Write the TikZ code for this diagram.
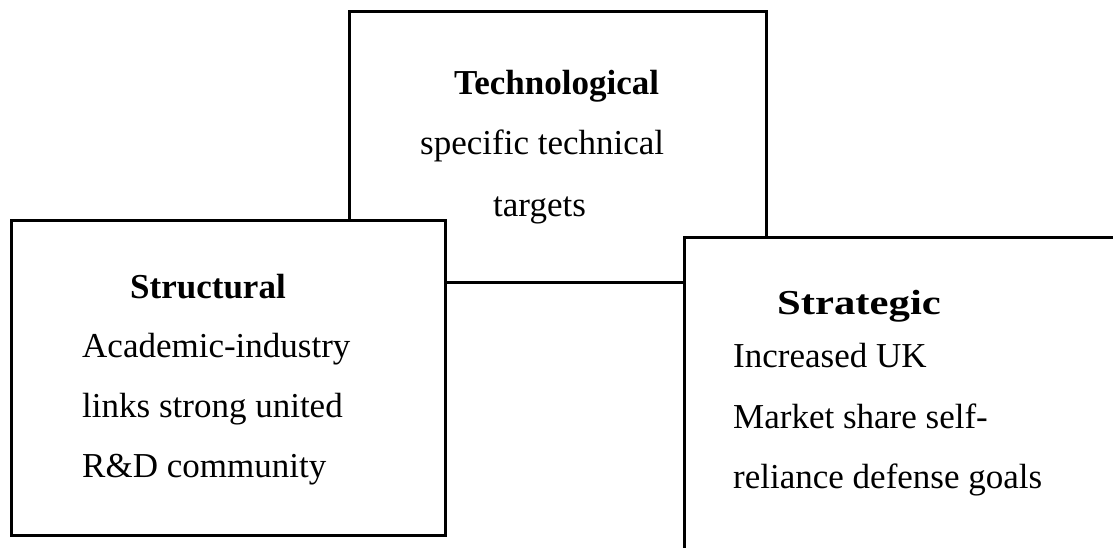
\documentclass[tikz,border=0pt]{standalone}
\usepackage{fontspec}
\setmainfont{Liberation Serif}
\begin{document}
\begin{tikzpicture}[x=1pt,y=-1pt,
  box/.style={draw, line width=2.6pt, fill=white, inner sep=0pt, anchor=north west},
  txt/.style={inner sep=0pt, anchor=base west, font=\fontsize{35}{42}\selectfont},
  ttl/.style={txt, font=\fontsize{35}{42}\selectfont\bfseries}]
\useasboundingbox (0,0) rectangle (1113,548);
% three overlapping panels, later ones cover the earlier
\node[box, minimum width=417pt, minimum height=271pt] (tech) at (348,10) {};
\node[box, minimum width=434pt, minimum height=315pt] (struct) at (10,219) {};
\node[box, minimum width=500pt, minimum height=400pt] (strat) at (683,236) {};
% Technological
\node[ttl] (techT) at (454,95) {Technological};
\node[txt] (techA) at (420,155) {specific technical};
\node[txt] (techB) at (493,216) {targets};
% Structural
\node[ttl] (structT) at (130,298) {Structural};
\node[txt] (structA) at (82,357) {Academic-industry};
\node[txt] (structB) at (82,417) {links strong united};
\node[txt] (structC) at (82,477) {R\&D community};
% Strategic
\node[ttl] (stratT) at (777,314) {\scalebox{1.22}[1]{Strategic}};
\node[txt] (stratA) at (733,367) {Increased UK};
\node[txt] (stratB) at (733,428) {Market share self-};
\node[txt] (stratC) at (733,488) {reliance defense goals};
\end{tikzpicture}
\end{document}
